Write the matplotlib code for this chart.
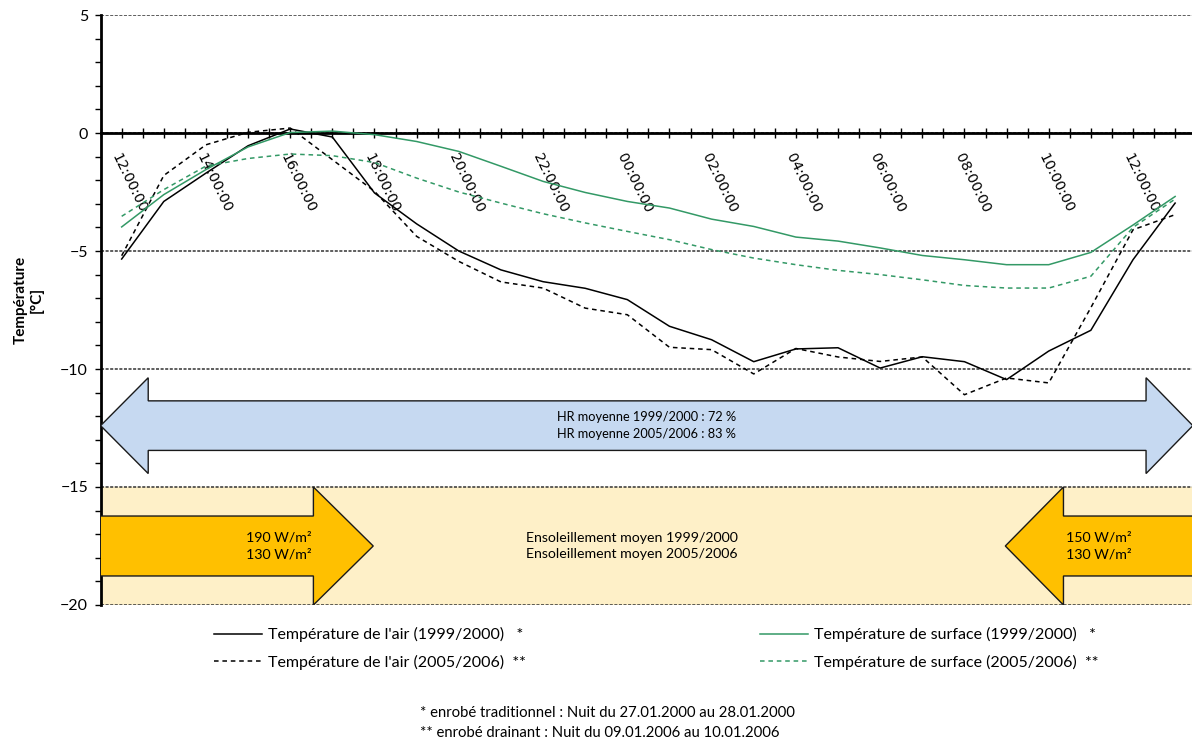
import matplotlib
matplotlib.use("Agg")
import matplotlib.pyplot as plt
from matplotlib.patches import Polygon
from matplotlib.ticker import MultipleLocator, FixedLocator

plt.rcParams['font.family'] = ['Lato', 'DejaVu Sans']

# Hourly readings from 12:00 (day 1) to 13:00 (day 2), hours counted from midnight of day 1
hours = list(range(12, 38))
air_1999 = [-5.34, -2.90, -1.70, -0.54, 0.17, -0.17, -2.54, -3.85, -5.00, -5.80,
            -6.30, -6.58, -7.06, -8.19, -8.76, -9.69, -9.15, -9.10, -9.96, -9.48,
            -9.69, -10.45, -9.24, -8.36, -5.37, -2.97]
air_2005 = [-5.20, -1.80, -0.50, 0.03, 0.21, -1.13, -2.47, -4.38, -5.44, -6.31,
            -6.57, -7.42, -7.70, -9.08, -9.18, -10.21, -9.13, -9.49, -9.68, -9.49,
            -11.09, -10.38, -10.59, -7.40, -4.10, -3.46]
surf_1999 = [-3.98, -2.61, -1.55, -0.59, 0.02, 0.08, -0.07, -0.36, -0.78, -1.41,
             -2.05, -2.52, -2.90, -3.18, -3.65, -3.96, -4.41, -4.58, -4.87, -5.19,
             -5.37, -5.58, -5.58, -5.06, -3.90, -2.69]
surf_2005 = [-3.53, -2.40, -1.40, -1.08, -0.89, -0.96, -1.25, -1.91, -2.50, -2.97,
             -3.42, -3.81, -4.17, -4.52, -4.94, -5.30, -5.58, -5.82, -6.00, -6.22,
             -6.46, -6.57, -6.57, -6.07, -4.00, -2.80]

tick_hours = list(range(12, 37, 2))
tick_labels = ["12:00:00", "14:00:00", "16:00:00", "18:00:00", "20:00:00", "22:00:00",
               "00:00:00", "02:00:00", "04:00:00", "06:00:00", "08:00:00", "10:00:00",
               "12:00:00"]

series_labels = ["Température de l'air (1999/2000)   *",
                 "Température de l'air (2005/2006)  **",
                 "Température de surface (1999/2000)   *",
                 "Température de surface (2005/2006)  **"]

hr_text = "HR moyenne 1999/2000 : 72 %\nHR moyenne 2005/2006 : 83 %"
sun_text = "Ensoleillement moyen 1999/2000\nEnsoleillement moyen 2005/2006"
sun_start = "190 W/m²\n130 W/m²"
sun_end = "150 W/m²\n130 W/m²"
notes = ["* enrobé traditionnel : Nuit du 27.01.2000 au 28.01.2000",
         "** enrobé drainant : Nuit du 09.01.2006 au 10.01.2006"]

GREEN = '#339966'
W, H = 1192, 745

fig = plt.figure(figsize=(W / 100, H / 100), dpi=100)
ax = fig.add_axes([100.6 / W, 1 - 605 / H, 1095.6 / W, 590 / H])
ax.set_xlim(11.5, 37.5)
ax.set_ylim(-20, 5)

# axes frame: y axis on the left, x axis crossing at 0
for s in ('top', 'right'):
    ax.spines[s].set_visible(False)
ax.spines['bottom'].set_position(('data', 0))
ax.spines['bottom'].set_linewidth(2)
ax.spines['left'].set_linewidth(2)

ax.yaxis.set_major_locator(MultipleLocator(5))
ax.yaxis.set_minor_locator(MultipleLocator(1))
ax.tick_params(axis='y', which='both', direction='out', length=4, width=1, pad=5,
               labelsize=11.5)
ax.xaxis.set_major_locator(FixedLocator(tick_hours))
ax.xaxis.set_minor_locator(MultipleLocator(0.5))
ax.set_xticklabels(tick_labels)
ax.tick_params(axis='x', which='both', direction='inout', length=7.2, width=1, pad=9.4)
for lab in ax.get_xticklabels():
    lab.set_rotation(-64)
    lab.set_rotation_mode('anchor')
    lab.set_ha('left')
    lab.set_va('top')
    lab.set_fontfamily('DejaVu Sans')
    lab.set_fontsize(10.3)

ax.yaxis.grid(True, which='major', linestyle=(0, (2, 1)), color='#333333', lw=1.1)

# sunshine band and humidity / sunshine arrows
ax.axhspan(-20, -15, color='#FEF0C8', zorder=1)

c = -12.4
blue = Polygon([(11.5, c), (12.63, c + 2.03), (12.63, c + 1.05), (36.31, c + 1.05),
                (36.31, c + 2.03), (37.42, c), (36.31, c - 2.03), (36.31, c - 1.05),
                (12.63, c - 1.05), (12.63, c - 2.03)], closed=True,
               facecolor='#C6D9F1', edgecolor='#1a1a1a', lw=1, zorder=3)
ax.add_patch(blue)
ax.text(24.45, c, hr_text, ha='center', va='center', fontsize=9.2,
        linespacing=1.5, zorder=4)

s = -17.5
left_arrow = Polygon([(11.4, s + 1.27), (16.55, s + 1.27), (16.55, s + 2.5), (17.97, s),
                      (16.55, s - 2.5), (16.55, s - 1.27), (11.4, s - 1.27)], closed=True,
                     facecolor='#FFC000', edgecolor='#1a1a1a', lw=1, zorder=3)
right_arrow = Polygon([(37.7, s + 1.27), (34.35, s + 1.27), (34.35, s + 2.5), (32.97, s),
                       (34.35, s - 2.5), (34.35, s - 1.27), (37.7, s - 1.27)], closed=True,
                      facecolor='#FFC000', edgecolor='#1a1a1a', lw=1, zorder=3)
ax.add_patch(left_arrow)
ax.add_patch(right_arrow)
ax.text(16.5, s, sun_start, ha='right', va='center', multialignment='right',
        fontsize=10.2, linespacing=1.45, zorder=4)
ax.text(34.42, s, sun_end, ha='left', va='center', multialignment='left',
        fontsize=10.2, linespacing=1.45, zorder=4)
ax.text(24.1, s, sun_text, ha='center', va='center', fontsize=10.2, linespacing=1.45,
        zorder=4)

# temperature curves
l1, = ax.plot(hours, air_1999, color='black', lw=1.1, zorder=5)
l2, = ax.plot(hours, air_2005, color='black', lw=1.1, ls=(0, (3, 2.5)), zorder=5)
l3, = ax.plot(hours, surf_1999, color=GREEN, lw=1.1, zorder=5)
l4, = ax.plot(hours, surf_2005, color=GREEN, lw=1.1, ls=(0, (3, 2.5)), zorder=5)

fig.text(28.5 / W, 1 - 300 / H, "Température\n[°C]", rotation=90, ha='center',
         va='center', multialignment='center', fontweight='bold', fontsize=11)

leg_kw = dict(loc='center left', frameon=False, borderpad=0, borderaxespad=0,
              handlelength=3.0, handletextpad=0.35, labelspacing=0.8, fontsize=11.5)
fig.legend([l1, l2], series_labels[:2], bbox_to_anchor=(214 / W, 1 - 648.5 / H), **leg_kw)
fig.legend([l3, l4], series_labels[2:], bbox_to_anchor=(760 / W, 1 - 648.5 / H), **leg_kw)

fig.text(420 / W, 1 - 713 / H, notes[0], ha='left', va='center', fontsize=10.7)
fig.text(420 / W, 1 - 733 / H, notes[1], ha='left', va='center', fontsize=10.7)

fig.savefig('out.png', dpi=100)
